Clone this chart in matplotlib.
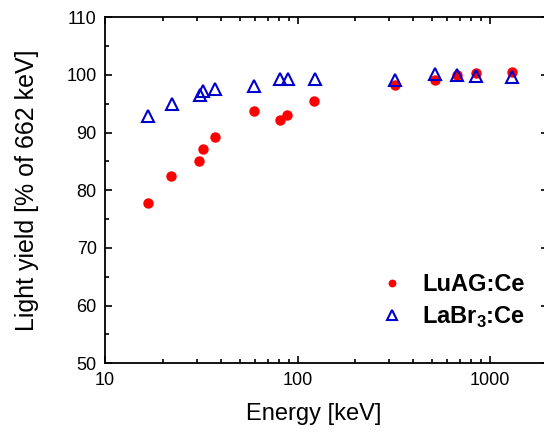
import matplotlib
matplotlib.use("Agg")
import matplotlib.pyplot as plt
from matplotlib.ticker import FixedLocator, LogLocator, NullFormatter, MultipleLocator

plt.rcParams['font.family'] = ['Liberation Sans', 'DejaVu Sans']
plt.rcParams['mathtext.fontset'] = 'custom'
plt.rcParams['mathtext.rm'] = 'Liberation Sans'
plt.rcParams['mathtext.bf'] = 'Liberation Sans:bold'

# energies [keV] and light yield [% of 662 keV]
luag_energy = [16.7, 22.0, 30.9, 32.1, 37.4, 59.6, 81.0, 88.5, 122, 320, 516, 670, 843, 1294]
luag_yield = [77.8, 82.4, 85.0, 87.1, 89.3, 93.7, 92.2, 93.1, 95.5, 98.3, 99.2, 100.0, 100.3, 100.6]

labr_energy = [16.7, 22.2, 31.1, 32.1, 37.2, 59.6, 81.0, 88.9, 123, 320, 516, 670, 843, 1294]
labr_yield = [92.8, 94.9, 96.5, 97.3, 97.5, 98.1, 99.3, 99.3, 99.3, 99.1, 100.2, 100.0, 99.8, 99.6]

fig = plt.figure(figsize=(5.44, 4.33), dpi=100)
# axes runs slightly past the right edge, like the cropped original
ax = fig.add_axes([105 / 544, (433 - 363.3) / 433, 443 / 544, 346 / 433])

ax.plot(luag_energy, luag_yield, 'o', color='#ff0000', markersize=7.5,
        markeredgewidth=0, label='LuAG:Ce', zorder=3)
ax.plot(labr_energy, labr_yield, '^', color='#0000cc', markerfacecolor='none',
        markersize=9, markeredgewidth=1.5, label='LaBr$_\\mathbf{3}$:Ce', zorder=4)

ax.set_xscale('log')
ax.set_xlim(10, 2000)
ax.set_ylim(50, 110)
ax.xaxis.set_major_locator(FixedLocator([10, 100, 1000]))
ax.set_xticklabels(['10', '100', '1000'])
ax.xaxis.set_minor_locator(LogLocator(base=10, subs=range(2, 10)))
ax.xaxis.set_minor_formatter(NullFormatter())
ax.yaxis.set_major_locator(MultipleLocator(10))
ax.yaxis.set_minor_locator(MultipleLocator(5))

ax.tick_params(which='both', direction='in', top=True, right=True, width=1.2)
ax.tick_params(which='major', length=5, labelsize=13, pad=6)
ax.tick_params(which='minor', length=3)
for s in ax.spines.values():
    s.set_linewidth(1.3)

ax.set_xlabel('Energy [keV]', fontsize=17, labelpad=8)
ax.xaxis.set_label_coords((314 - 105) / 443, -0.115)
ax.set_ylabel('Light yield [% of 662 keV]', fontsize=18)
ax.yaxis.set_label_coords(-0.15, 0.5)

leg = ax.legend(loc='lower right', bbox_to_anchor=(0.997, 0.035), frameon=False,
                markerscale=0.75, handlelength=0.8, handletextpad=0.9,
                labelspacing=0.38, prop={'weight': 'bold', 'size': 17})

fig.savefig('out.png', dpi=100)
